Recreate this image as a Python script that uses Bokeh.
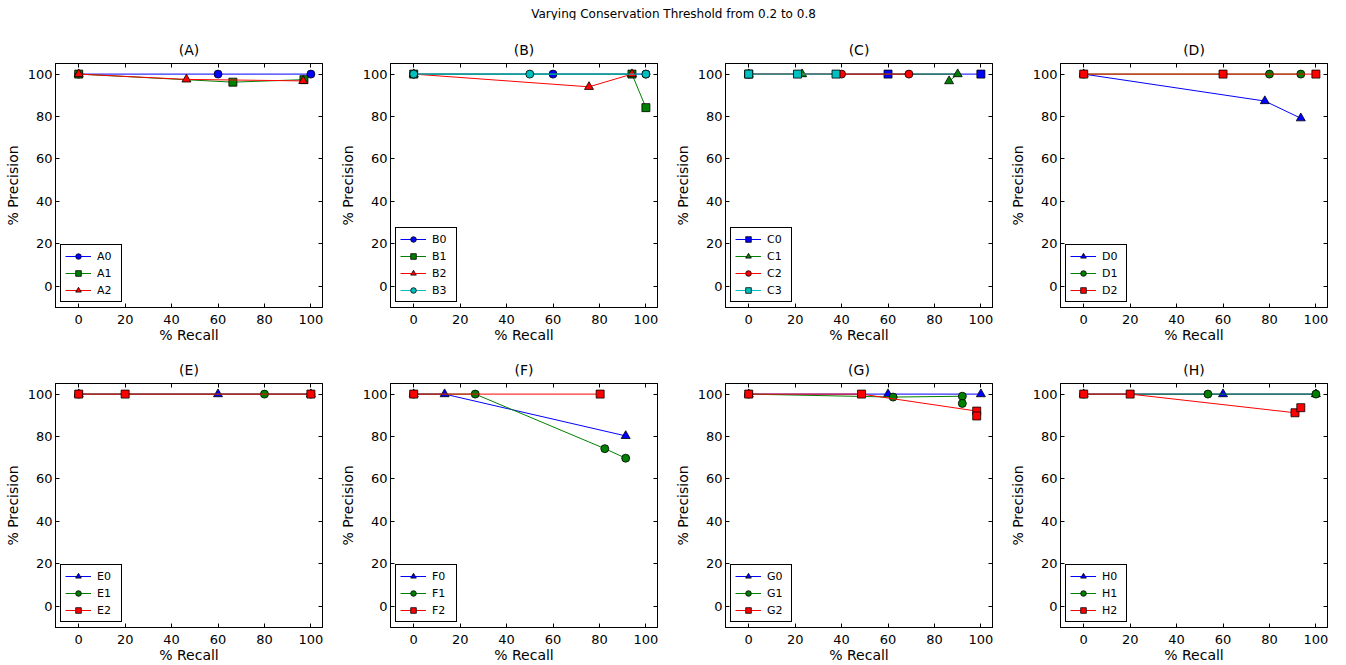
from bokeh.plotting import figure
from bokeh.layouts import column, row
from bokeh.models import Range1d, LinearAxis, FixedTicker, CustomJSTickFormatter, Label
from bokeh.embed import file_html
from bokeh.resources import INLINE

SUPTITLE = "Varying Conservation Threshold from 0.2 to 0.8"
TICKS = [0, 20, 40, 60, 80, 100]
X_LABEL = "% Recall"
Y_LABEL = "% Precision"

# ---------------- data (recall, precision) ----------------
A0_recall = [0, 60, 100];          A0_precision = [100, 100, 100]
A1_recall = [0, 66.4, 97];         A1_precision = [100, 96.2, 97.4]
A2_recall = [0, 46.4, 96.7];       A2_precision = [100, 97.5, 96.8]

B0_recall = [0, 60, 100];          B0_precision = [100, 100, 100]
B1_recall = [0, 94, 100];          B1_precision = [100, 100, 84.2]
B2_recall = [0, 75.5, 94];         B2_precision = [100, 94.0, 100]
B3_recall = [0, 50, 100];          B3_precision = [100, 100, 100]

C0_recall = [0, 60, 100];          C0_precision = [100, 100, 100]
C1_recall = [0, 23, 90, 86.3];     C1_precision = [100, 100, 100, 96.7]
C2_recall = [0, 40, 69];           C2_precision = [100, 100, 100]
C3_recall = [0, 21, 37.6];         C3_precision = [100, 100, 100]

D0_recall = [0, 78, 93.5];         D0_precision = [100, 87.3, 79.2]
D1_recall = [0, 80, 93.5];         D1_precision = [100, 100, 100]
D2_recall = [0, 60, 100];          D2_precision = [100, 100, 100]

E0_recall = [0, 60, 100];          E0_precision = [100, 100, 100]
E1_recall = [0, 80, 100];          E1_precision = [100, 100, 100]
E2_recall = [0, 20, 100];          E2_precision = [100, 100, 100]

F0_recall = [0, 13.3, 91.3];       F0_precision = [100, 100, 80.3]
F1_recall = [0, 26.5, 82.3, 91.3]; F1_precision = [100, 100, 74.3, 69.8]
F2_recall = [0, 80.3];             F2_precision = [100, 100]

G0_recall = [0, 60, 100];          G0_precision = [100, 100, 100]
G1_recall = [0, 62.2, 92, 92];     G1_precision = [100, 98.6, 99.0, 95.6]
G2_recall = [0, 48.6, 98.2, 98.2]; G2_precision = [100, 100, 92.0, 89.7]

H0_recall = [0, 60, 100];          H0_precision = [100, 100, 100]
H1_recall = [0, 53.5, 100];        H1_precision = [100, 100, 100]
H2_recall = [0, 20, 91, 93.5];     H2_precision = [100, 100, 91.2, 93.6]

PANEL_TITLES = ["(A)", "(B)", "(C)", "(D)", "(E)", "(F)", "(G)", "(H)"]
PANEL_SERIES = [
    [("A0", A0_recall, A0_precision), ("A1", A1_recall, A1_precision), ("A2", A2_recall, A2_precision)],
    [("B0", B0_recall, B0_precision), ("B1", B1_recall, B1_precision), ("B2", B2_recall, B2_precision),
     ("B3", B3_recall, B3_precision)],
    [("C0", C0_recall, C0_precision), ("C1", C1_recall, C1_precision), ("C2", C2_recall, C2_precision),
     ("C3", C3_recall, C3_precision)],
    [("D0", D0_recall, D0_precision), ("D1", D1_recall, D1_precision), ("D2", D2_recall, D2_precision)],
    [("E0", E0_recall, E0_precision), ("E1", E1_recall, E1_precision), ("E2", E2_recall, E2_precision)],
    [("F0", F0_recall, F0_precision), ("F1", F1_recall, F1_precision), ("F2", F2_recall, F2_precision)],
    [("G0", G0_recall, G0_precision), ("G1", G1_recall, G1_precision), ("G2", G2_recall, G2_precision)],
    [("H0", H0_recall, H0_precision), ("H1", H1_recall, H1_precision), ("H2", H2_recall, H2_precision)],
]

# ---------------- styles ----------------
BLUE, GREEN, RED, CYAN = "#0000ff", "#008000", "#ff0000", "#00bfbf"
PANEL_STYLES = [
    [(BLUE, "circle"), (GREEN, "square"), (RED, "triangle")],
    [(BLUE, "circle"), (GREEN, "square"), (RED, "triangle"), (CYAN, "circle")],
    [(BLUE, "square"), (GREEN, "triangle"), (RED, "circle"), (CYAN, "square")],
    [(BLUE, "triangle"), (GREEN, "circle"), (RED, "square")],
    [(BLUE, "triangle"), (GREEN, "circle"), (RED, "square")],
    [(BLUE, "triangle"), (GREEN, "circle"), (RED, "square")],
    [(BLUE, "triangle"), (GREEN, "circle"), (RED, "square")],
    [(BLUE, "triangle"), (GREEN, "circle"), (RED, "square")],
]
MARKER_SIZE = {"circle": 8, "square": 8, "triangle": 9}
FONT = "DejaVu Sans"

COL_WIDTHS = [335, 335, 335, 341]
FRAME_W = 267
FRAME_H = 244
BORDER_L = 55
HEADER_H = 20
ROW_H = [332, 313]
ROW_TOP = [43, 31]


def make_panel(idx):
    col = idx % 4
    r = 0 if idx < 4 else 1
    w = COL_WIDTHS[col]
    h = ROW_H[r]
    bt = ROW_TOP[r]
    p = figure(width=w, height=h, output_backend="svg", toolbar_location=None,
               x_range=Range1d(-10, 105), y_range=Range1d(-10, 105),
               min_border_left=BORDER_L, min_border_right=w - BORDER_L - FRAME_W,
               min_border_top=bt, min_border_bottom=h - bt - FRAME_H,
               title=PANEL_TITLES[idx])
    p.title.align = "center"
    p.title.text_font = FONT
    p.title.text_font_size = "14px"
    p.title.text_font_style = "normal"
    p.title.text_color = "black"
    p.title.standoff = 12
    p.grid.visible = False
    p.outline_line_color = "black"
    p.outline_line_width = 1
    p.background_fill_color = "white"
    p.border_fill_color = "white"

    for ax in (p.xaxis[0], p.yaxis[0]):
        ax.ticker = FixedTicker(ticks=TICKS)
        ax.major_tick_in = 4
        ax.major_tick_out = 0
        ax.minor_tick_line_color = None
        ax.axis_line_color = "black"
        ax.major_label_text_font = FONT
        ax.major_label_text_font_size = "13px"
        ax.major_label_text_color = "black"
        ax.axis_label_text_font = FONT
        ax.axis_label_text_font_size = "14px"
        ax.axis_label_text_font_style = "normal"
        ax.axis_label_text_color = "black"
    p.xaxis[0].major_label_standoff = 7
    p.xaxis[0].axis_label_standoff = 0
    p.yaxis[0].major_label_standoff = 3
    p.yaxis[0].axis_label_standoff = 4
    p.xaxis[0].axis_label = X_LABEL
    p.yaxis[0].axis_label = Y_LABEL

    for side in ("above", "right"):
        ax = LinearAxis(ticker=FixedTicker(ticks=TICKS),
                        formatter=CustomJSTickFormatter(code="return ''"),
                        major_tick_in=4, major_tick_out=0, minor_tick_line_color=None,
                        major_label_text_font_size="0px", major_label_standoff=0,
                        axis_line_color="black")
        p.add_layout(ax, side)

    for (name, xs, ys), (color, marker) in zip(PANEL_SERIES[idx], PANEL_STYLES[idx]):
        p.line(xs, ys, line_color=color, line_width=1, legend_label=name)
        p.scatter(xs, ys, marker=marker, size=MARKER_SIZE[marker], fill_color=color,
                  line_color="black", line_width=0.8, legend_label=name)

    lg = p.legend[0]
    lg.location = "bottom_left"
    lg.margin = 5
    lg.padding = 4
    lg.spacing = 3
    lg.label_height = 14
    lg.glyph_height = 14
    lg.glyph_width = 26
    lg.label_standoff = 6
    lg.label_text_font = FONT
    lg.label_text_font_size = "11px"
    lg.label_text_color = "black"
    lg.border_line_color = "black"
    lg.border_line_width = 1
    lg.border_line_alpha = 1
    lg.background_fill_alpha = 1
    return p


total_w = sum(COL_WIDTHS)
header = figure(width=total_w, height=HEADER_H, output_backend="svg", toolbar_location=None,
                x_range=Range1d(0, 1), y_range=Range1d(0, 1), x_axis_type=None, y_axis_type=None,
                min_border=0, outline_line_color=None)
header.grid.visible = False
header.add_layout(Label(x=total_w / 2, y=HEADER_H - 13, x_units="screen", y_units="screen",
                        text=SUPTITLE, text_align="center", text_baseline="middle",
                        text_font=FONT, text_font_size="12px", text_color="black"))

panels = [make_panel(i) for i in range(8)]
layout = column(header, row(*panels[:4]), row(*panels[4:]))

open("out.html", "w").write(file_html(layout, INLINE))
